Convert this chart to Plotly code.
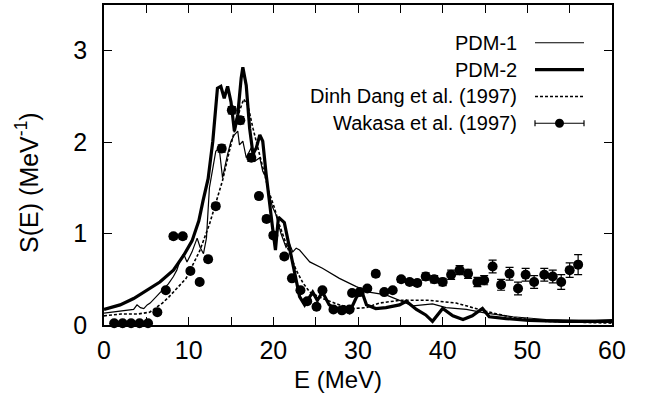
import plotly.graph_objects as go

# ---------------- data ----------------
# PDM-1 (thin solid)
pdm1_E = [0, 1, 2, 3, 3.5, 3.9, 4.3, 4.7, 5.1, 5.45, 6.2, 6.9, 7.6, 8.2, 8.6, 9.0, 9.4, 9.8,
          10.4, 11.0, 11.35, 11.75, 12.1, 12.45, 12.85, 13.2, 13.6, 14.0, 14.6, 15.0, 15.4,
          15.8, 16.0, 16.4, 16.8, 17.4, 17.8, 18.4, 18.75, 19.15, 19.5, 19.9, 20.3, 20.9,
          21.5, 21.9, 22.3, 22.7, 23.1, 24.3, 25.8, 27.8, 29.8, 31.3, 33.3, 34.9, 36.5,
          38.8, 40.4, 42.8, 45.1, 48.3, 52.2, 56.1, 58, 60]
pdm1_S = [0.13, 0.14, 0.15, 0.16, 0.17, 0.22, 0.19, 0.18, 0.22, 0.24, 0.31, 0.38, 0.45,
          0.53, 0.60, 0.71, 0.78, 0.69, 0.80, 0.95, 0.85, 0.78, 0.95, 1.50, 1.72, 1.90,
          1.94, 1.61, 1.87, 2.01, 2.08, 2.12, 1.97, 2.01, 1.83, 1.94, 1.79, 1.83, 1.68,
          1.61, 1.43, 1.29, 1.21, 1.00, 0.85, 0.89, 0.80, 0.84, 0.82, 0.69, 0.62, 0.51,
          0.42, 0.36, 0.33, 0.27, 0.21, 0.23, 0.19, 0.17, 0.13, 0.09, 0.06, 0.05, 0.05, 0.06]

# PDM-2 (thick solid)
pdm2_E = [0, 1.9, 3.5, 5.05, 6.6, 8.2, 9.4, 10.4, 11.2, 11.7, 12.3, 12.85, 13.4, 13.8,
          14.2, 14.6, 15.0, 15.4, 15.8, 16.2, 16.4, 16.8, 17.2, 17.6, 18.0, 18.4, 18.75,
          19.15, 19.5, 19.9, 20.25, 20.6, 21.3, 21.9, 22.5, 23.1, 23.7, 24.65, 25.2, 25.8,
          26.6, 27.4, 28.4, 29.0, 29.8, 30.4, 31.0, 32.1, 33.3, 34.9, 35.7, 36.9, 38.0,
          38.8, 40.0, 41.2, 42.4, 43.5, 44.7, 45.5, 47.5, 50.2, 54.2, 57.0, 60.0]
pdm2_S = [0.17, 0.22, 0.29, 0.38, 0.47, 0.60, 0.76, 0.92, 1.14, 1.36, 1.60, 2.01, 2.59,
          2.61, 2.48, 2.61, 2.44, 2.12, 2.30, 2.70, 2.82, 2.62, 2.15, 1.87, 1.94, 2.08,
          2.01, 1.65, 1.36, 1.07, 0.82, 1.18, 1.12, 0.85, 0.60, 0.31, 0.22, 0.36, 0.27,
          0.36, 0.22, 0.18, 0.20, 0.14, 0.30, 0.38, 0.22, 0.18, 0.19, 0.22, 0.26, 0.17,
          0.11, 0.04, 0.18, 0.10, 0.06, 0.10, 0.18, 0.09, 0.07, 0.05, 0.04, 0.04, 0.04]

# Dinh Dang et al. (1997) (dashed)
dd_E = [0, 2, 4, 5.4, 6.9, 7.7, 9.7, 11.3, 12.45, 13.25, 14.0, 14.8, 15.5, 16.0, 16.5,
        17.0, 17.6, 18.2, 18.75, 19.5, 20.1, 20.7, 21.5, 22.7, 23.5, 24.3, 25.8, 27.8,
        29.4, 31.0, 32.5, 35.0, 38.4, 41.6, 45.1, 48.3, 52.2, 56.0, 60.0]
dd_S = [0.10, 0.12, 0.12, 0.14, 0.24, 0.31, 0.51, 0.81, 1.10, 1.36, 1.58, 1.90, 2.15,
        2.34, 2.47, 2.40, 2.15, 1.92, 1.72, 1.45, 1.29, 1.10, 0.89, 0.60, 0.46, 0.36,
        0.29, 0.22, 0.18, 0.19, 0.24, 0.27, 0.27, 0.24, 0.15, 0.08, 0.04, 0.03, 0.02]

# Wakasa et al. (1997) (data with error bars)
wk_E = [1.2, 2.2, 3.2, 4.2, 5.2, 6.3, 7.3, 8.2, 9.3, 10.2, 11.3, 12.3, 13.2, 13.9, 15.1,
        16.1, 17.4, 18.3, 19.2, 20.0, 21.3, 22.2, 23.2, 24.0, 25.1, 25.8, 27.1, 28.1,
        29.0, 29.3, 30.2, 31.1, 32.1, 33.1, 34.1, 35.1, 36.1, 37.0, 38.0, 39.0, 40.0,
        41.0, 42.0, 43.0, 44.1, 44.9, 45.9, 46.9, 47.9, 48.9, 49.8, 50.8, 52.0, 53.0,
        54.0, 55.0, 56.0]
wk_S = [0.02, 0.02, 0.02, 0.02, 0.02, 0.14, 0.38, 0.97, 0.97, 0.59, 0.47, 0.72, 1.30,
        1.93, 2.35, 2.24, 1.83, 1.41, 1.16, 0.98, 0.75, 0.51, 0.38, 0.26, 0.20, 0.38,
        0.17, 0.16, 0.17, 0.35, 0.36, 0.40, 0.56, 0.36, 0.38, 0.50, 0.47, 0.46, 0.53,
        0.50, 0.47, 0.55, 0.60, 0.56, 0.47, 0.49, 0.64, 0.44, 0.56, 0.40, 0.55, 0.47,
        0.55, 0.53, 0.47, 0.60, 0.66]
wk_err = [0.01, 0.01, 0.01, 0.01, 0.01, 0.02, 0.02, 0.03, 0.03, 0.02, 0.02, 0.03, 0.03,
          0.04, 0.04, 0.04, 0.04, 0.03, 0.03, 0.03, 0.03, 0.02, 0.02, 0.02, 0.02, 0.02,
          0.02, 0.02, 0.02, 0.02, 0.02, 0.02, 0.03, 0.02, 0.02, 0.03, 0.03, 0.03, 0.04,
          0.04, 0.04, 0.05, 0.05, 0.05, 0.05, 0.05, 0.07, 0.06, 0.07, 0.07, 0.07, 0.07,
          0.07, 0.07, 0.08, 0.08, 0.11]

legend_labels = ["PDM-1", "PDM-2", "Dinh Dang et al. (1997)", "Wakasa et al. (1997)"]
x_tickvals = [0, 10, 20, 30, 40, 50, 60]
x_ticktext = ["0", "10", "20", "30", "40", "50", "60"]
y_tickvals = [0, 1, 2, 3]
y_ticktext = ["0", "1", "2", "3"]

# ---------------- layout helpers ----------------
W, H = 647, 403
L, R, T, B = 104, 612, 3, 325


def px(x):
    return (x - L) / (R - L)


def py(y):
    return (B - y) / (B - T)


FONT = "Liberation Sans, Arial, Helvetica, sans-serif"

fig = go.Figure()
fig.add_trace(go.Scatter(x=pdm1_E, y=pdm1_S, mode="lines",
                         line=dict(color="black", width=1.2), showlegend=False))
fig.add_trace(go.Scatter(x=pdm2_E, y=pdm2_S, mode="lines",
                         line=dict(color="black", width=3.2), showlegend=False))
fig.add_trace(go.Scatter(x=dd_E, y=dd_S, mode="lines",
                         line=dict(color="black", width=1.6, dash="3px,2px"),
                         showlegend=False))
fig.add_trace(go.Scatter(x=wk_E, y=wk_S, mode="markers",
                         marker=dict(color="black", size=10, symbol="circle"),
                         error_y=dict(type="data", array=wk_err, color="black",
                                      thickness=1.2, width=4),
                         cliponaxis=False, showlegend=False))
# invisible trace bound to the label axis so that it is drawn
fig.add_trace(go.Scatter(x=[0, 60], y=[0, 0], xaxis="x2", mode="lines",
                         line=dict(width=0), hoverinfo="skip", showlegend=False))

# ---- manual legend (gnuplot style: text right-aligned, sample on the right) ----
rows = [41, 68, 95, 122]
text_right = 519
s0, s1 = 535, 584
for lab, yy in zip(legend_labels, rows):
    fig.add_annotation(x=px(text_right), y=py(yy), xref="paper", yref="paper",
                       text=lab, showarrow=False, xanchor="right", yanchor="middle",
                       font=dict(family=FONT, size=20, color="black"))
fig.add_shape(type="line", xref="paper", yref="paper", x0=px(s0), x1=px(s1),
              y0=py(rows[0]), y1=py(rows[0]), line=dict(color="black", width=1.2))
fig.add_shape(type="line", xref="paper", yref="paper", x0=px(s0), x1=px(s1),
              y0=py(rows[1]), y1=py(rows[1]), line=dict(color="black", width=3.2))
fig.add_shape(type="line", xref="paper", yref="paper", x0=px(s0), x1=px(s1),
              y0=py(rows[2]), y1=py(rows[2]),
              line=dict(color="black", width=1.6, dash="3px,2px"))
fig.add_shape(type="line", xref="paper", yref="paper", x0=px(s0), x1=px(s1),
              y0=py(rows[3]), y1=py(rows[3]), line=dict(color="black", width=1.2))
for xx in (s0, s1):
    fig.add_shape(type="line", xref="paper", yref="paper", x0=px(xx), x1=px(xx),
                  y0=py(rows[3] - 3), y1=py(rows[3] + 3),
                  line=dict(color="black", width=1.2))
cx = (s0 + s1) / 2
fig.add_shape(type="circle", xref="paper", yref="paper",
              x0=px(cx - 4.5), x1=px(cx + 4.5), y0=py(rows[3] + 4.5), y1=py(rows[3] - 4.5),
              fillcolor="black", line=dict(color="black", width=0))

# ---- axis titles ----
fig.add_annotation(x=px(338), y=py(380), xref="paper", yref="paper",
                   text="E (MeV)", showarrow=False, xanchor="center", yanchor="middle",
                   font=dict(family=FONT, size=24, color="black"))
fig.add_annotation(x=px(27), y=py(182), xref="paper", yref="paper",
                   text="S(E) (MeV<sup>-1</sup>)", showarrow=False, textangle=-90,
                   xanchor="center", yanchor="middle",
                   font=dict(family=FONT, size=25, color="black"))

tickfont = dict(family=FONT, size=25, color="black")

fig.update_layout(
    width=W, height=H,
    margin=dict(l=L, r=W - R, t=T, b=H - B, pad=0),
    paper_bgcolor="white", plot_bgcolor="white",
    showlegend=False,
    # tick marks every 5 MeV on bottom and top, no labels
    xaxis=dict(range=[0, 60], dtick=5, tick0=0, showticklabels=False,
               showgrid=False, zeroline=False, showline=True, linecolor="black",
               linewidth=1.6, mirror="ticks", ticks="inside", ticklen=8,
               tickwidth=1.2, tickcolor="black"),
    # labels every 10 MeV
    xaxis2=dict(range=[0, 60], overlaying="x", side="bottom", anchor="y",
                tickmode="array", tickvals=x_tickvals, ticktext=x_ticktext,
                ticks="", showline=False, showgrid=False, zeroline=False,
                ticklabelstandoff=8, tickfont=tickfont),
    yaxis=dict(range=[0, 3.5], tickmode="array", tickvals=y_tickvals,
               ticktext=y_ticktext, ticklabelstandoff=10,
               showgrid=False, zeroline=False, showline=True, linecolor="black",
               linewidth=1.6, mirror="ticks", ticks="inside", ticklen=8,
               tickwidth=1.2, tickcolor="black", tickfont=tickfont),
)

fig.write_html("out.html", config={"displayModeBar": False},
               post_script="document.body.style.margin='0';document.body.style.padding='0';")
